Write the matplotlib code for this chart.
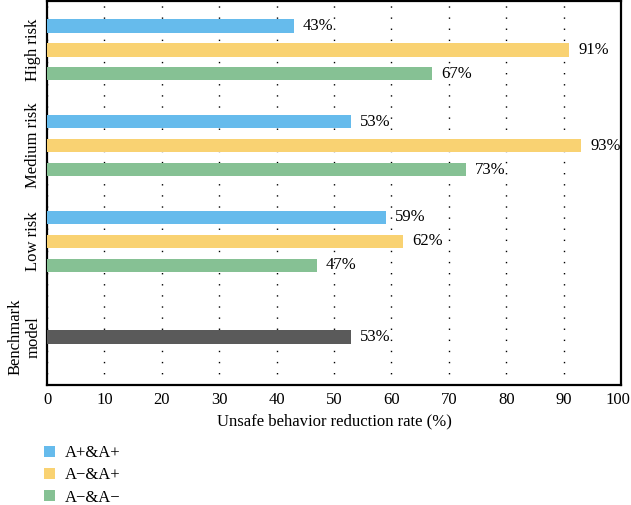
import numpy as np
import matplotlib.pyplot as plt
import matplotlib.transforms as mtransforms
from matplotlib.patches import Patch

## data
groups = ['High risk', 'Medium risk', 'Low risk', 'Benchmark\nmodel']
series = ['A+&A+', 'A\u2212&A+', 'A\u2212&A\u2212']
high_risk = [43, 91, 67]
medium_risk = [53, 93, 73]
low_risk = [59, 62, 47]
benchmark = [53]

colors = ['#66BBEC', '#F9D272', '#86C194']
bench_color = '#5A5A5A'

plt.rcParams['font.family'] = ['Liberation Serif', 'DejaVu Serif']
plt.rcParams['font.size'] = 12

fig = plt.figure(figsize=(6.31, 5.05), dpi=100)
ax = fig.add_axes([47 / 631, 1 - 385 / 505, 574 / 631, 384 / 505])

## three bars per risk group, one bar for the benchmark
offsets = [-0.25, 0.0, 0.25]
bar_h = 0.14
for gi, vals in enumerate([high_risk, medium_risk, low_risk]):
    for si, v in enumerate(vals):
        ax.barh(gi + offsets[si], v, height=bar_h, color=colors[si], zorder=3)
        ax.text(v + 1.6, gi + offsets[si], '%d%%' % v, va='center', ha='left', fontsize=12, zorder=4)

ax.barh(3, benchmark[0], height=bar_h, color=bench_color, zorder=3)
ax.text(benchmark[0] + 1.6, 3, '%d%%' % benchmark[0], va='center', ha='left', fontsize=12, zorder=4)

ax.set_xlim(0, 100)
ax.set_ylim(3.5, -0.51)
ax.set_xticks(np.arange(0, 101, 10))
ax.set_yticks(range(len(groups)))
ax.set_yticklabels(groups, rotation=90, va='center', ha='right', multialignment='center')
ax.tick_params(axis='both', length=0)
ax.tick_params(axis='y', pad=4)
ax.tick_params(axis='x', pad=5)

## keep the "100" label inside the picture
last = ax.get_xticklabels()[-1]
last.set_transform(last.get_transform() + mtransforms.ScaledTranslation(-3 / 100, 0, fig.dpi_scale_trans))

## dotted vertical grid
ax.xaxis.grid(True, linestyle=(0, (1, 7)), color='black', linewidth=1.0, zorder=0)
for s in ax.spines.values():
    s.set_linewidth(1.6)

ax.set_xlabel('Unsafe behavior reduction rate (%)', fontsize=12, labelpad=4)

handles = [Patch(facecolor=c, edgecolor='none') for c in colors]
fig.legend(handles, series, loc='upper left', bbox_to_anchor=(44 / 631, 1 - 445 / 505),
           frameon=False, handlelength=0.65, handleheight=0.65, handletextpad=0.6,
           labelspacing=0.38, borderpad=0, borderaxespad=0, fontsize=12)

fig.savefig('out.png', dpi=100)
